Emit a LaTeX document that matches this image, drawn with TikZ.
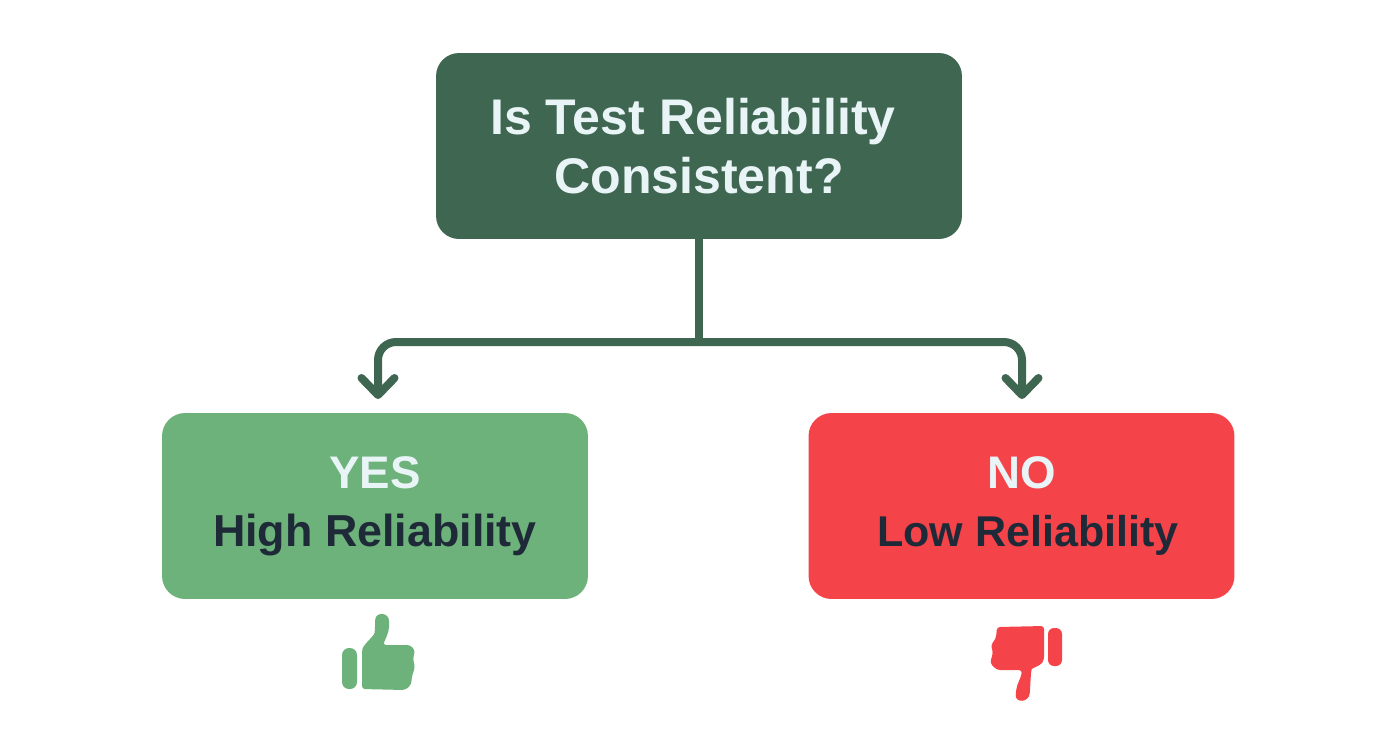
\documentclass[tikz,border=0pt]{standalone}
\usepackage{fontspec}
\setmainfont{Liberation Sans}
\usepackage{xcolor}
\usetikzlibrary{arrows.meta}
\definecolor{pinegreen}{HTML}{3F6650}
\definecolor{leafgreen}{HTML}{6DB27A}
\definecolor{alertred}{HTML}{F5434A}
\definecolor{palewhite}{HTML}{E8F4F6}
\definecolor{inkdark}{HTML}{1E2A38}
\tikzset{
  answerbox/.style={rounded corners=0.46cm,minimum width=8.52cm,minimum height=3.72cm,inner sep=0pt,outer sep=0pt,align=center,font=\bfseries\fontsize{26}{33}\selectfont},
  questionbox/.style={answerbox,minimum width=10.52cm,fill=pinegreen,text=palewhite,font=\bfseries\fontsize{28.5}{33.5}\selectfont},
  flowline/.style={draw=pinegreen,line width=0.16cm,rounded corners=0.36cm},
  flowarrow/.style={flowline,-{Straight Barb[length=0.34cm,width=0.66cm,round,line width=0.16cm]}}
}
\begin{document}
\begin{tikzpicture}[line cap=round,line join=round,x=0.02cm,y=-0.02cm]
  \useasboundingbox (0,0) rectangle (1392,752);
  \node[questionbox] (question) at (699,146) {\hspace*{-0.24cm}Is Test Reliability\\Consistent?};
  \node[answerbox,fill=leafgreen] (yes) at (375,506) {\textcolor{palewhite}{YES}\\\textcolor{inkdark}{\fontsize{25.5}{33}\selectfont High Reliability}};
  \node[answerbox,fill=alertred] (no) at (1021.5,506) {\textcolor{palewhite}{NO}\\\hspace*{0.26cm}\textcolor{inkdark}{\fontsize{24.5}{33}\selectfont Low Reliability}};
  \coordinate (split) at (699,342);
  \coordinate (yestip) at (378,399);
  \coordinate (notip) at (1022,399);
  \draw[flowline,line cap=butt] (question.south) -- (split);
  \draw[flowarrow] (split) -| (yestip);
  \draw[flowarrow] (split) -| (notip);
  % thumbs
  \fill[leafgreen,rounded corners=0.14cm] (342,648) rectangle (357,689);
  \fill[leafgreen,rounded corners=0.06cm] (362,689) -- (362,652) .. controls (363,645) and (374,636) .. (375,630) -- (375,622) .. controls (376,612) and (389,612) .. (389,624) .. controls (389,632) and (385,640) .. (383,645) -- (410,645) -- (415,650) -- (413,659) -- (415,667) -- (412,676) -- (411,685) -- (405,690) -- cycle;
  \fill[alertred,rounded corners=0.12cm] (1048,628) rectangle (1062,666);
  \fill[alertred,rounded corners=0.06cm] (1044,626) -- (1044,660) .. controls (1040,666) and (1032,668) .. (1031,672) -- (1030,690) .. controls (1029,703) and (1015,703) .. (1016,692) .. controls (1017,684) and (1021,678) .. (1022,670) -- (997,670) -- (990,663) -- (993,653) -- (991,645) -- (996,638) -- (997,627) -- cycle;
\end{tikzpicture}
\end{document}
